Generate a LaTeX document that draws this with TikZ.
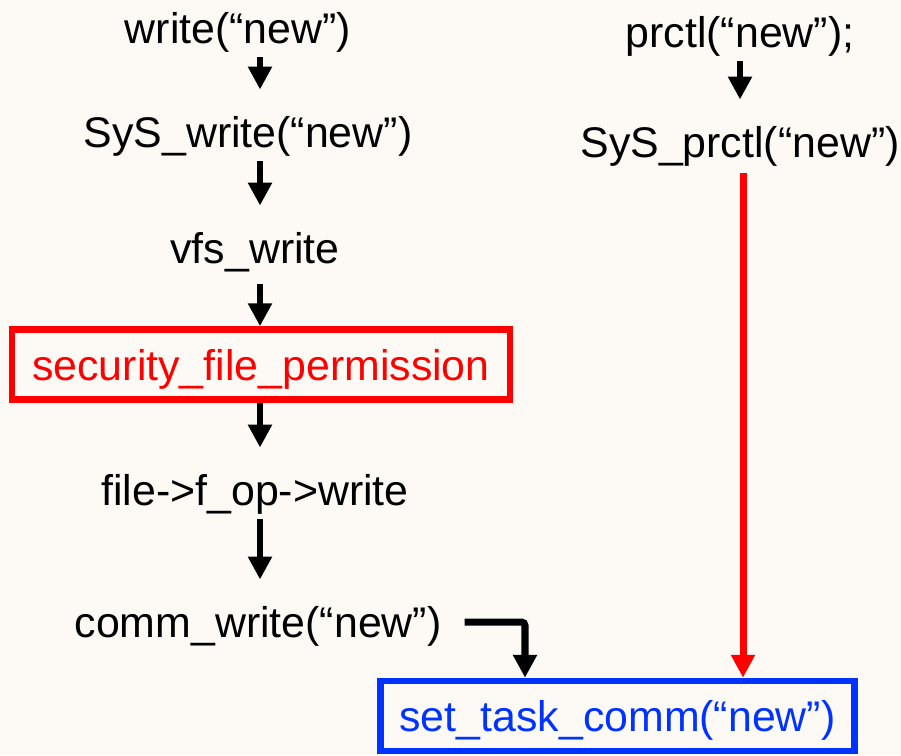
\documentclass[tikz,border=0pt]{standalone}
\usepackage{fontspec}
\setmainfont{Liberation Sans}
\usetikzlibrary{arrows.meta}
\definecolor{bgcream}{RGB}{253,250,246}
\definecolor{callblue}{RGB}{0,51,255}

\begin{document}
\begin{tikzpicture}[x=0.02cm, y=-0.02cm, >={Triangle[width=13pt,length=13pt]},
  call/.style={inner sep=0pt, text height=20pt, text depth=2pt, font=\fontsize{24.4}{28}\selectfont},
  hook/.style={call, draw, line width=3.8pt, minimum height=1.4cm},
  arr/.style={->, line width=3.4pt, shorten <=5.5pt, shorten >=13pt}]
  % Background
  \useasboundingbox (0,0) rectangle (901,755);
  \fill[bgcream] (0,0) rectangle (901,755);

  % Columns of the arrows
  \coordinate (lc) at (260,0);
  \coordinate (elb) at (525,0);
  \coordinate (rx) at (743,0);

  % write path
  \node[call] (wr) at (238,28) {write(“new”)};
  \node[call] (sysw) at (248,132) {SyS\_write(“new”)};
  \node[call] (vfs) at (255,248) {vfs\_write};
  \node[hook, red, minimum width=9.96cm] (sfp) at (261,364.5) {security\_file\_permission};
  \node[call] (fop) at (255,490) {file->f\_op->write};
  \node[call] (comm) at (258,622) {comm\_write(“new”)};

  % prctl path
  \node[call] (prc) at (740,32) {prctl(“new”);};
  \node[call] (sysp) at (740,142) {SyS\_prctl(“new”)};

  % Target
  \node[hook, draw=callblue, text=callblue, minimum width=9.48cm] (stc) at (617.5,716) {set\_task\_comm(“new”)};

  % Call arrows
  \draw[arr] (wr.south -| lc) -- (sysw.north -| lc);
  \draw[arr] (sysw.south -| lc) -- (vfs.north -| lc);
  \draw[arr, shorten <=9pt, shorten >=0pt] (vfs.south -| lc) -- (sfp.north -| lc);
  \draw[arr, shorten <=0pt] (sfp.south -| lc) -- (fop.north -| lc);
  \draw[arr] (fop.south -| lc) -- (comm.north -| lc);
  \draw[arr, line width=4pt, rounded corners=2pt, shorten <=13pt, shorten >=0pt] (comm.east) -| (stc.north -| elb);
  \draw[arr, red, line width=4pt, shorten <=6.5pt, shorten >=0pt] (sysp.south -| rx) -- (stc.north -| rx);
  \draw[arr] (prc.south -| sysp) -- (sysp.north);
\end{tikzpicture}
\end{document}
